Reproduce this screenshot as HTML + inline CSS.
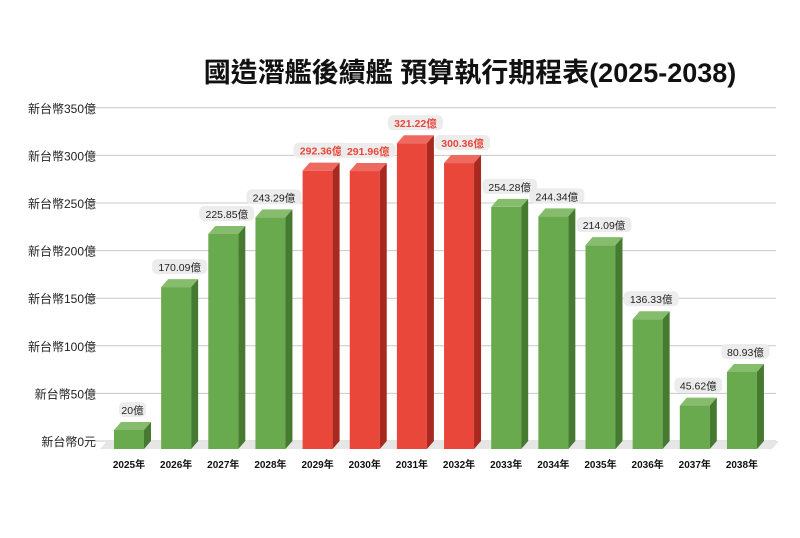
<!DOCTYPE html>
<html><head><meta charset="utf-8">
<style>
body{margin:0;background:#fff;}
svg text{font-family:"Liberation Sans","Noto Sans CJK TC",sans-serif;}
</style></head>
<body>
<svg width="800" height="533" viewBox="0 0 800 533" xmlns="http://www.w3.org/2000/svg">
<text x="470" y="82" text-anchor="middle" font-size="27" font-weight="bold" fill="#111">國造潛艦後續艦 預算執行期程表(2025-2038)</text>
<g id="grid"></g>
<g id="floor"></g>
<g id="bars"></g>
<g id="xlabels"></g>
</svg>
<script>
const categories=["2025年","2026年","2027年","2028年","2029年","2030年","2031年","2032年","2033年","2034年","2035年","2036年","2037年","2038年"];
const values=[20,170.09,225.85,243.29,292.36,291.96,321.22,300.36,254.28,244.34,214.09,136.33,45.62,80.93];
const valueLabels=["20億","170.09億","225.85億","243.29億","292.36億","291.96億","321.22億","300.36億","254.28億","244.34億","214.09億","136.33億","45.62億","80.93億"];
const highlight=[false,false,false,false,true,true,true,true,false,false,false,false,false,false];
const ticks=[0,50,100,150,200,250,300,350];
const tickLabels=["新台幣0元","新台幣50億","新台幣100億","新台幣150億","新台幣200億","新台幣250億","新台幣300億","新台幣350億"];

const NS="http://www.w3.org/2000/svg";
const DX=7,DY=8,BW=30;
const yBack=v=>441-v*0.952;
const yFront=v=>449-v*0.952;
const xC=i=>129+i*47.15;
function mk(tag,attrs,parent){const e=document.createElementNS(NS,tag);for(const k in attrs)e.setAttribute(k,attrs[k]);parent.appendChild(e);return e;}
const grid=document.getElementById('grid');
ticks.forEach((t,i)=>{
  const l=mk('line',{x1:88,x2:776,y1:yBack(t),y2:yBack(t),stroke:'#c8c8c8','stroke-width':1},grid);
  
  
  const tx=mk('text',{x:96,y:yBack(t)+5,'text-anchor':'end','font-size':12,fill:'#222'},grid);
  tx.textContent=tickLabels[i];
  
  
});
const floor=document.getElementById('floor');
const fl=mk('polygon',{points:`100,449 ${779-DX},449 779,441 ${100+DX},441`,fill:'#e6e6e6'},floor);


const bars=document.getElementById('bars');
const xl=document.getElementById('xlabels');
values.forEach((v,i)=>{
  const g=mk('g',{},bars);
  
  
  const red=highlight[i];
  const cf=red?'#e8473a':'#6aaa4f', ct=red?'#ef6a5e':'#86bd6c', cs=red?'#a8291f':'#467a31';
  const x0=xC(i)-BW/2, x1=x0+BW, yt=yFront(v);
  mk('rect',{x:x0,y:yt,width:BW,height:449-yt,fill:cf},g);
  mk('polygon',{points:`${x0},${yt} ${x1},${yt} ${x1+DX},${yt-DY} ${x0+DX},${yt-DY}`,fill:ct},g);
  mk('polygon',{points:`${x1},${yt} ${x1+DX},${yt-DY} ${x1+DX},441 ${x1},449`,fill:cs},g);
  const cx=xC(i)+DX/2, ly=yt-DY-10;
  const w=valueLabels[i].length*7+6;
  mk('rect',{x:cx-w/2,y:ly-10,width:w,height:15,rx:5,fill:'#ececec'},g);
  const t=mk('text',{x:cx,y:ly+2,'text-anchor':'middle','font-size':10.5,fill:red?'#e8473a':'#222','font-weight':red?'bold':'normal'},g);
  t.textContent=valueLabels[i];
  
  
  const c=mk('text',{x:xC(i),y:468,'text-anchor':'middle','font-size':10,'font-weight':'bold',fill:'#111'},xl);
  c.textContent=categories[i];
  
  
});
</script>
</body></html>
